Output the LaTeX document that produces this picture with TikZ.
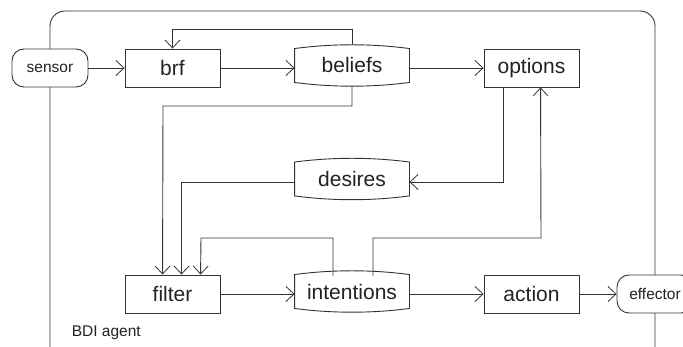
\documentclass[tikz,border=0pt]{standalone}
\usepackage{fontspec}
\setmainfont{Liberation Sans}
\usetikzlibrary{arrows.meta,calc}
\definecolor{ink}{HTML}{333333}
\definecolor{txt}{HTML}{222222}
\begin{document}
\begin{tikzpicture}[x=1pt,y=1pt,
  line width=0.9pt, draw=ink, text=txt,
  flow/.style={-{Straight Barb[length=8pt,width=15pt,line width=0.8pt]}},
  proc/.style={draw, fill=white, rectangle, minimum width=95pt, minimum height=38pt,
    inner sep=0pt, font=\fontsize{21}{24}\selectfont},
  store/.style={rectangle, minimum width=114pt, minimum height=33pt,
    inner sep=0pt, font=\fontsize{21}{24}\selectfont},
  port/.style={draw, fill=white, rectangle, rounded corners=12pt, minimum width=76pt,
    minimum height=38pt, inner sep=0pt, font=\fontsize{15.5}{18}\selectfont}]
\useasboundingbox (0,0) rectangle (683,347);
\begin{scope}
\clip (0,0) rectangle (683,347);

% agent boundary
\draw[rounded corners=15pt] (50,-1) -- (50,336) -- (655,336) -- (655,-1);
\node[anchor=base west, font=\fontsize{15.5}{18}\selectfont] (agent) at (68,10) {BDI agent};

% processing boxes and interface ports
\node[port] (sensor) at (50,279) {sensor};
\node[proc] (brf) at (172.5,279) {brf};
\node[proc] (options) at (531.5,279) {options};
\node[proc] (filter) at (172.5,53) {filter};
\node[proc] (action) at (531.5,53) {action};
\node[port] (effector) at (655,53) {effector};

% data stores
\node[store] (beliefs) at (352,281.5) {beliefs};
\node[store] (desires) at (352,168) {desires};
\node[store] (intentions) at (352,55.5) {intentions};
\foreach \s in {beliefs,desires,intentions}{
  \draw[fill=white] (\s.north west)
    .. controls ($(\s.north west)!0.33!(\s.north east)+(0,5)$) and ($(\s.north west)!0.67!(\s.north east)+(0,5)$) .. (\s.north east)
    -- (\s.south east)
    .. controls ($(\s.south west)!0.67!(\s.south east)+(0,-5)$) and ($(\s.south west)!0.33!(\s.south east)+(0,-5)$) .. (\s.south west)
    -- cycle;
  \node[font=\fontsize{21}{24}\selectfont] at (\s.center) {\s};
}

% main flow
\draw[flow] (sensor.east) -- (brf.west);
\draw[flow] (brf.east) -- (brf.east -| beliefs.west);
\draw[flow] (brf.east -| beliefs.east) -- (options.west);
\draw[flow] (filter.east) -- (filter.east -| intentions.west);
\draw[flow] (filter.east -| intentions.east) -- (action.west);
\draw[flow] (action.east) -- (effector.west);

% belief revision feedback
\draw[flow] ($(beliefs.north)+(0,4)$) |- (172.5,318) -- (brf.north);

% inputs to the filter
\draw[flow] ($(beliefs.south)+(0,-4)$) |- (163,241) -- ($(filter.north west)+(38,0)$);
\draw[flow] (desires.west |- 0,165) -| ($(filter.north west)+(57,0)$);
\draw[flow] ($(intentions.north)+(-19,-1)$) |- (201,109) -- ($(filter.north west)+(76,0)$);

% options generation
\draw[flow] ($(options.south west)+(20,0)$) |- (desires.east |- 0,165);
\draw[flow] ($(intentions.north)+(21,-1)$) |- (541,109) -- ($(options.south west)+(57,0)$);
\end{scope}
\end{tikzpicture}
\end{document}
